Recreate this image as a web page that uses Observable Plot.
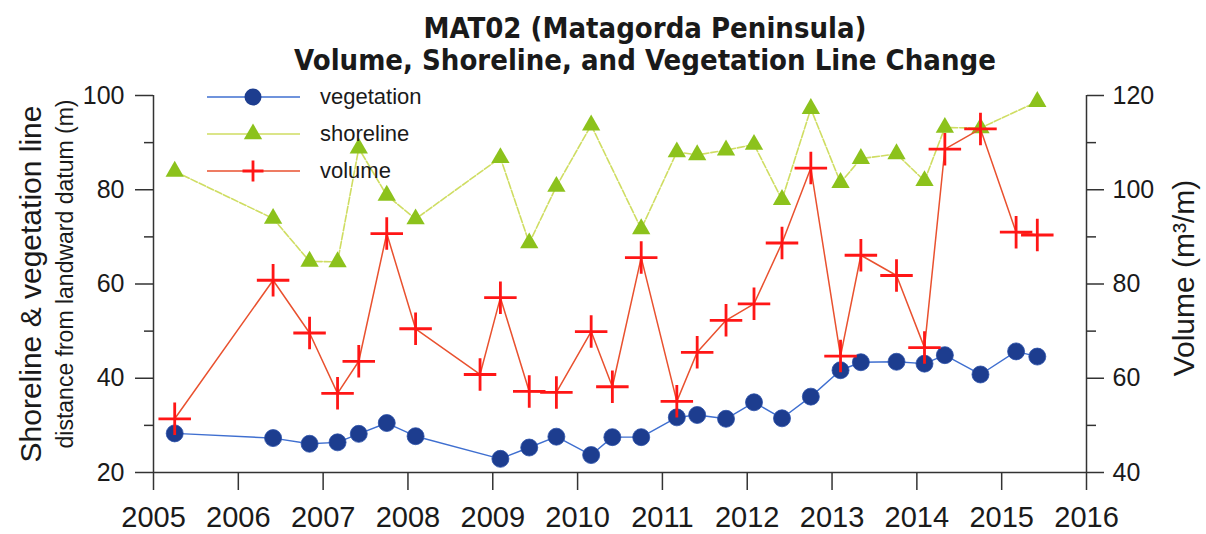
<!DOCTYPE html>
<html>
<head>
<meta charset="utf-8">
<script src="https://cdn.jsdelivr.net/npm/d3@7"></script>
<script src="https://cdn.jsdelivr.net/npm/@observablehq/plot@0.6"></script>
<style>
  body { margin: 0; background: #fff; }
  #wrap { position: relative; width: 1206px; height: 534px; font-family: "Liberation Sans", Arial, sans-serif; }
  #title { height: 75px; box-sizing: border-box; padding-top: 12px; text-align: center; padding-left: 84px;
           font-family: "Liberation Sans Narrow", "Arial Narrow", "DejaVu Sans Condensed", sans-serif;
           font-weight: bold; font-size: 29px; line-height: 32px; color: #1a1a1a; }
  #chart { position: relative; z-index: 1; }
  #legend { position: absolute; z-index: 2; left: 200px; top: 78px; font-size: 22px; color: #1a1a1a; }
  #legend .row { height: 37px; display: flex; align-items: center; }
  #legend svg { display: block; }
</style>
</head>
<body>
<div id="wrap">
  <div id="title">MAT02 (Matagorda Peninsula)<br>Volume, Shoreline, and Vegetation Line Change</div>
  <div id="chart"></div>
  <div id="legend"></div>
</div>
<script>
// Sampling dates (decimal years)
const dates = [2005.25, 2006.41, 2006.84, 2007.17, 2007.42, 2007.75, 2008.09, 2008.85, 2009.09, 2009.43,
               2009.75, 2010.16, 2010.41, 2010.75, 2011.17, 2011.41, 2011.75, 2012.08, 2012.41, 2012.75,
               2013.10, 2013.34, 2013.76, 2014.09, 2014.33, 2014.75, 2015.17, 2015.42];
// Vegetation line distance from landward datum (m)
const vegetation = [28.3, 27.3, 26.1, 26.4, 28.2, 30.5, 27.7, null, 22.9, 25.3,
                    27.6, 23.7, 27.5, 27.5, 31.7, 32.2, 31.4, 34.9, 31.5, 36.1,
                    41.7, 43.4, 43.5, 43.1, 44.9, 40.8, 45.7, 44.6];
// Shoreline distance from landward datum (m)
const shoreline = [83.9, 73.9, 64.8, 64.7, 88.8, 78.8, 73.8, null, 86.8, 68.7,
                   80.7, 93.7, null, 71.7, 88.0, 87.4, 88.4, 89.6, 77.9, 97.2,
                   81.5, 86.6, 87.6, 81.9, 93.2, 93.1, null, 98.7];
// Volume (m3/m), right axis
const volume = [51.4, 80.8, 69.6, 56.8, 63.6, 90.7, 70.5, 60.8, 77.1, 57.2,
                57.0, 69.9, 58.2, 85.6, 55.1, 65.5, 72.3, 75.8, 88.7, 104.6,
                64.7, 86.1, 81.8, 66.5, 108.6, 112.9, 91.0, 90.4];

const yearTicks = [2005, 2006, 2007, 2008, 2009, 2010, 2011, 2012, 2013, 2014, 2015, 2016];
const leftTicks = [20, 40, 60, 80, 100];
const leftMinor = [30, 50, 70, 90];
const rightTicks = [40, 60, 80, 100, 120];
const rightMinor = [50, 70, 90, 110];

const leftDomain = [20, 100];
const rightDomain = [40, 120];
const xDomain = [2005, 2016];

// map volume onto the left scale
const vol2left = d3.scaleLinear(rightDomain, leftDomain);

const toRows = (vals, f = v => v) => dates.map((d, i) => ({x: d, y: vals[i] == null ? null : f(vals[i])})).filter(r => r.y != null);
const vegRows = toRows(vegetation);
const shoreRows = toRows(shoreline);
const volRows = toRows(volume, vol2left);

const C = {
  vegLine: "#3f6fd0", vegDot: "#1d3d8f",
  shoreLine: "#cfdd62", shoreDot: "#8cc21c",
  volLine: "#e9512f", volDot: "#ff1616",
  axis: "#333"
};

const chart = Plot.plot({
  width: 1206,
  height: 459,
  marginLeft: 153,
  marginRight: 120,
  marginTop: 20,
  marginBottom: 62,
  style: {fontFamily: '"Liberation Sans", Arial, sans-serif', color: "#1a1a1a", background: "#fff", overflow: "visible"},
  x: {domain: xDomain, axis: null},
  y: {domain: leftDomain, axis: null},
  marks: [
    // axes
    Plot.axisX({ticks: yearTicks, tickFormat: d => String(d), tickSize: 18, tickPadding: 16, fontSize: 29, stroke: C.axis, strokeWidth: 1.5, label: null}),
    Plot.axisY({anchor: "left", ticks: leftTicks, tickSize: 18, tickPadding: 11, fontSize: 25, stroke: C.axis, strokeWidth: 1.5, label: null}),
    Plot.axisY({anchor: "left", ticks: leftMinor, tickSize: 9, text: null, stroke: C.axis, strokeWidth: 1.5, label: null}),
    Plot.axisY({anchor: "right", ticks: rightTicks.map(vol2left), tickFormat: d => String(Math.round(vol2left.invert(d))), tickSize: 17, tickPadding: 9, fontSize: 25, stroke: C.axis, strokeWidth: 1.5, label: null}),
    Plot.axisY({anchor: "right", ticks: rightMinor.map(vol2left), tickSize: 9, text: null, stroke: C.axis, strokeWidth: 1.5, label: null}),
    Plot.ruleX(xDomain, {stroke: C.axis, strokeWidth: 1.5}),
    Plot.ruleY([leftDomain[0]], {stroke: C.axis, strokeWidth: 1.5}),
    // axis titles
    Plot.text(["Shoreline & vegetation line"], {frameAnchor: "left", textAnchor: "middle", dx: -122, rotate: -90, fontSize: 30, fill: "#1a1a1a"}),
    Plot.text(["distance from landward datum (m)"], {frameAnchor: "left", textAnchor: "middle", dx: -88, dy: -10, rotate: -90, fontSize: 23, fill: "#1a1a1a"}),
    Plot.text(["Volume (m³/m)"], {frameAnchor: "right", textAnchor: "middle", dx: 98, dy: -6, rotate: -90, fontSize: 30, fill: "#1a1a1a"}),
    // vegetation
    Plot.line(vegRows, {x: "x", y: "y", stroke: C.vegLine, strokeWidth: 1.4}),
    Plot.dot(vegRows, {x: "x", y: "y", r: 8.5, fill: C.vegDot, stroke: "#2a4fa8", strokeWidth: 0.8}),
    // shoreline
    Plot.line(shoreRows, {x: "x", y: "y", stroke: C.shoreLine, strokeWidth: 1.6, strokeDasharray: "7,2"}),
    Plot.dot(shoreRows, {x: "x", y: "y", symbol: "triangle", r: 6.8, fill: C.shoreDot}),
    // volume
    Plot.line(volRows, {x: "x", y: "y", stroke: C.volLine, strokeWidth: 1.5}),
    Plot.dot(volRows, {x: "x", y: "y", symbol: "plus", r: 10.5, stroke: C.volDot, strokeWidth: 2.8})
  ]
});
document.getElementById("chart").appendChild(chart);

// legend
const legendItems = [
  {label: "vegetation", line: C.vegLine, marker: "circle", color: C.vegDot},
  {label: "shoreline", line: C.shoreLine, marker: "triangle", color: C.shoreDot},
  {label: "volume", line: C.volLine, marker: "plus", color: C.volDot}
];
const legend = d3.select("#legend");
for (const it of legendItems) {
  const row = legend.append("div").attr("class", "row");
  const s = row.append("svg").attr("width", 120).attr("height", 30);
  s.append("line").attr("x1", 7).attr("x2", 100).attr("y1", 15).attr("y2", 15).attr("stroke", it.line).attr("stroke-width", 1.5);
  if (it.marker === "circle") {
    s.append("circle").attr("cx", 53).attr("cy", 15).attr("r", 8.5).attr("fill", it.color);
  } else if (it.marker === "triangle") {
    s.append("path").attr("transform", "translate(53,15)").attr("d", d3.symbol(d3.symbolTriangle, Math.PI * 6.8 * 6.8)()).attr("fill", it.color);
  } else {
    s.append("path").attr("transform", "translate(53,15)").attr("d", "M-10.5,0H10.5M0,-10.5V10.5").attr("stroke", it.color).attr("stroke-width", 2.8);
  }
  row.append("span").text(it.label);
}
</script>
</body>
</html>
